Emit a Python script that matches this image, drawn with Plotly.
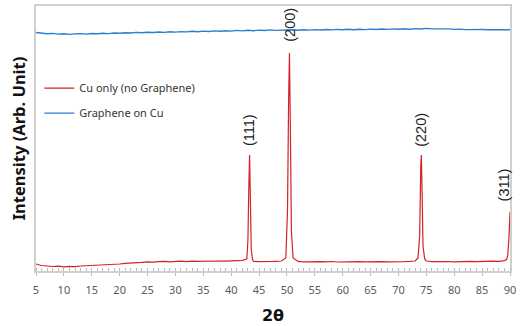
import plotly.graph_objects as go

# Cu only (no Graphene): 2theta and intensity (arb.)
cu_x = [5, 6, 7, 8, 9, 10, 11, 12, 13, 14, 15, 16, 17, 18, 19, 20, 21, 22, 23, 24,
        25, 26, 27, 28, 29, 30, 31, 32, 33, 34, 35, 36, 37, 38, 39, 40, 41, 42,
        42.8, 43.0, 43.15, 43.3, 43.45, 43.6, 43.8,
        44, 45, 46, 47, 48, 49, 49.8, 50.1, 50.3, 50.45, 50.6, 50.8, 51.1,
        52, 53, 54, 55, 56, 57, 58, 59, 60, 61, 62, 63, 64, 65, 66, 67, 68, 69, 70, 71, 72, 73,
        73.5, 73.8, 74.0, 74.1, 74.25, 74.4, 74.7,
        75, 76, 77, 78, 79, 80, 81, 82, 83, 84, 85, 86, 87, 88, 89, 89.4, 89.6, 89.8, 90]
cu_y = [7, 5.5, 5, 4.5, 4.8, 4.2, 4.6, 4.4, 5, 5.2, 5.6, 5.5, 6, 6.3, 6.8, 7, 7.6, 7.8, 8.4, 8.6,
        9.2, 8.8, 9.3, 9.6, 9.1, 9.5, 9.8, 9.4, 9.9, 9.6, 9.8, 10.2, 9.7, 10, 9.9, 10.2, 10.4, 10.6,
        12, 30, 80, 116, 70, 22, 12,
        9.6, 9.4, 9.8, 9.5, 9.7, 10, 13, 60, 170, 218, 150, 40, 13,
        9.6, 9.2, 9.4, 9, 9.3, 9.1, 9.5, 9, 9.2, 9.4, 8.9, 9.3, 9.1, 9.4, 9, 9.3, 9.2, 9.5, 9.1, 9.4, 9.6, 10,
        13, 35, 105, 116, 75, 25, 12,
        10, 9.4, 9.6, 9.3, 9.5, 9.2, 9.6, 9.4, 9.7, 9.3, 9.6, 9.5, 9.8, 9.6, 10.4, 11.5, 16, 32, 59]

# Graphene on Cu
gr_x = list(range(5, 91))
gr_y = [238.5, 238, 237.3, 237.6, 236.9, 237.2, 236.6, 237.1, 237.4, 236.9, 237.5, 237.2, 237.8, 237.4, 238,
        237.7, 238.3, 238, 238.6, 238.2, 238.8, 238.5, 239, 238.6, 239.3, 238.9, 239.4, 239.1, 239.7, 239.3,
        239.9, 239.5, 240.1, 239.7, 240.3, 239.9, 240.6, 240.1, 240.7, 240.3, 240.9, 240.5, 241.1, 240.6, 241,
        240.7, 241.2, 240.8, 241.3, 240.9, 241.4, 241, 241.5, 241.1, 241.6, 241.2, 241.7, 241.3, 241.8, 241.4,
        241.9, 241.5, 242, 241.6, 242.1, 241.7, 242.2, 241.8, 242.4, 242, 242.6, 242.1, 242.3, 241.8, 242.1,
        241.6, 241.9, 241.4, 241.7, 241.3, 241.6, 241.2, 241.5, 241.1, 241.4, 241.2]

peak_labels = ["(111)", "(200)", "(220)", "(311)"]
peak_x = [43.2, 50.5, 74.0, 89.0]
peak_label_y = [141, 246, 141, 86]

tick_vals = list(range(5, 91, 5))

fig = go.Figure()
fig.add_trace(go.Scatter(x=cu_x, y=cu_y, mode="lines", name="Cu only (no Graphene)",
                         line=dict(color="#d3222a", width=1.2), legendgroup="a"))
fig.add_trace(go.Scatter(x=gr_x, y=gr_y, mode="lines", name="Graphene on Cu",
                         line=dict(color="#2a7fcf", width=1.4), legendgroup="b"))

for lbl, px, py in zip(peak_labels, peak_x, peak_label_y):
    fig.add_annotation(x=px, y=py, text=lbl, textangle=-90, showarrow=False,
                       xanchor="center", yanchor="middle",
                       font=dict(family="Liberation Sans, Arial", size=14.5, color="#222222"))

fig.update_layout(
    width=525, height=326,
    margin=dict(l=36, r=15, t=6, b=55, autoexpand=False),
    paper_bgcolor="white", plot_bgcolor="white",
    font=dict(family="Noto Sans, Open Sans", size=11, color="#404040"),
    showlegend=True,
    legend=dict(x=0.007, y=0.745, xanchor="left", yanchor="top", bgcolor="rgba(0,0,0,0)",
                font=dict(size=11, color="#333333"), traceorder="grouped", tracegroupgap=6),
    xaxis=dict(range=[5, 90], tickvals=tick_vals, showgrid=False, zeroline=False,
               showline=True, linecolor="#d0d0d0", linewidth=1.5, mirror=True,
               ticks="outside", ticklen=3, tickcolor="#bbbbbb", ticklabelstandoff=5,
               minor=dict(dtick=1, ticks="inside", ticklen=3, tickcolor="#bbbbbb", showgrid=False),
               tickfont=dict(size=11, color="#595959"),
               title=dict(text="<b>2θ</b>", font=dict(family="DejaVu Sans", size=16, color="#111111"), standoff=14)),
    yaxis=dict(range=[0, 265], showticklabels=False, ticks="", showgrid=False, zeroline=False,
               showline=True, linecolor="#d0d0d0", linewidth=1.5, mirror=True,
               title=dict(text="<b>Intensity (Arb. Unit)</b>",
                          font=dict(family="Noto Sans", size=16.5, color="#111111"), standoff=4)),
)

fig.write_html("out.html", config={"displayModeBar": False},
               post_script="document.body.style.margin='0';document.body.style.overflow='hidden';")
